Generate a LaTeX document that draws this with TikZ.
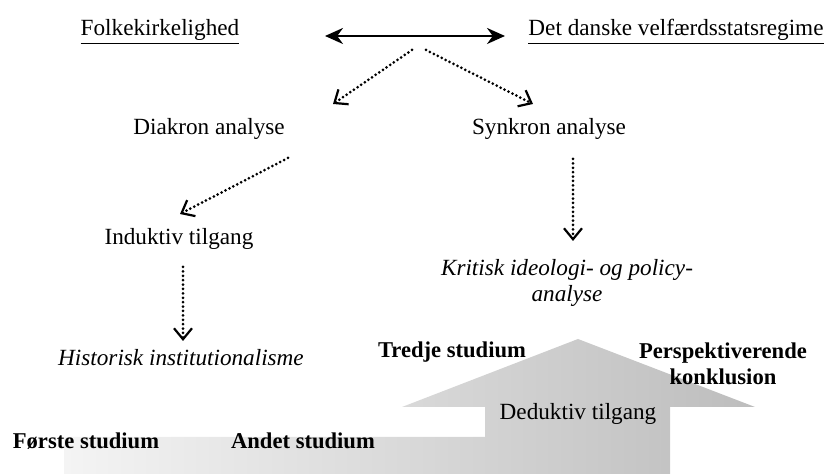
\documentclass[tikz,border=0pt]{standalone}
\usepackage{fontspec}
\setmainfont{Liberation Serif}
\usetikzlibrary{arrows.meta}
\definecolor{shL}{HTML}{F4F4F4}
\definecolor{shR}{HTML}{BDBDBD}
\begin{document}
\begin{tikzpicture}[x=0.5pt,y=-0.5pt,
  lbl/.style={inner sep=0pt, anchor=base, font=\fontsize{11.6}{14}\selectfont},
  bld/.style={inner sep=0pt, anchor=base, align=center, font=\fontsize{11.3}{13}\selectfont\bfseries},
  itl/.style={inner sep=0pt, anchor=base, align=center, font=\fontsize{11.6}{13}\selectfont\itshape},
  dotarrow/.style={line width=1.5pt, dash pattern=on 0pt off 2.2pt, line cap=round,
     -{Straight Barb[length=5.5pt,width=9pt,line width=1.1pt]}},
  dblarrow/.style={line width=1.3pt, {Stealth[length=9pt,width=8pt]}-{Stealth[length=9pt,width=8pt]}},
  stairs/.style={left color=shL, right color=shR, draw=none}
]
\useasboundingbox (0,0) rectangle (831,474);

% staircase arrow
\path[stairs] (64,474) -- (64,437) -- (485,437) -- (485,407) -- (402,407)
   -- (578,339) -- (755,407) -- (670,407) -- (670,474) -- cycle;

% labels
\node[lbl] (folk) at (160,36) {\underline{Folkekirkelighed}};
\node[lbl] (velf) at (676,36) {\underline{Det danske velfærdsstatsregime}};
\node[lbl] (diak) at (209,135) {Diakron analyse};
\node[lbl] (synk) at (549,135) {Synkron analyse};
\node[lbl] (indu) at (179,245) {Induktiv tilgang};
\node[itl] (krit) at (567,302) {Kritisk ideologi- og policy-\\analyse};
\node[itl] (hist) at (181,366) {Historisk institutionalisme};
\node[bld] (tred) at (452,358) {Tredje studium};
\node[bld] (pers) at (723,385) {Perspektiverende\\konklusion};
\node[lbl] (dedu) at (578,420) {Deduktiv tilgang};
\node[bld] (foer) at (86,449) {Første studium};
\node[bld] (ande) at (303,449) {Andet studium};

% connector end points
\coordinate (dL) at (325,36);
\coordinate (dR) at (505,36);
\coordinate (s1) at (412,50);
\coordinate (e1) at (333,104);
\coordinate (s2) at (426,50);
\coordinate (e2) at (533,104);
\coordinate (s3) at (288,158);
\coordinate (e3) at (180,214);
\coordinate (s4) at (573,159);
\coordinate (e4) at (573,241);
\coordinate (s5) at (183,267);
\coordinate (e5) at (183,341);

\draw[dblarrow] (dL) -- (dR);
\draw[dotarrow] (s1) -- (e1);
\draw[dotarrow] (s2) -- (e2);
\draw[dotarrow] (s3) -- (e3);
\draw[dotarrow] (s4) -- (e4);
\draw[dotarrow] (s5) -- (e5);
\end{tikzpicture}
\end{document}
